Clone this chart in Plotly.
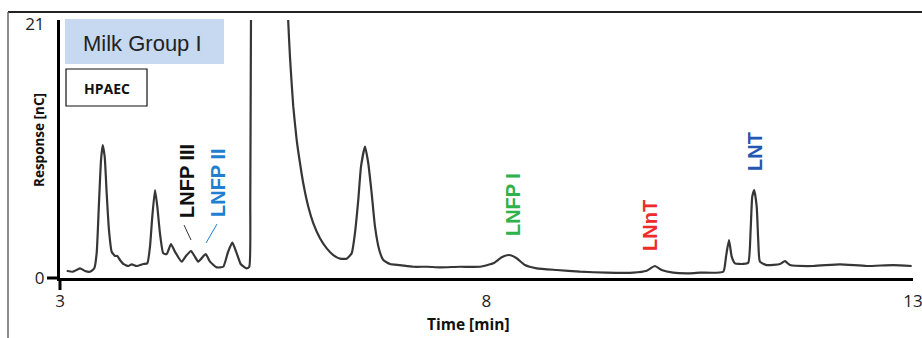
import plotly.graph_objects as go

# Chromatogram trace (retention time in min, detector response in nC)
time_min = [
    3.079, 3.152, 3.234, 3.293, 3.352, 3.402, 3.430, 3.457, 3.481, 3.501,
    3.524, 3.547, 3.574, 3.606, 3.645, 3.672, 3.703, 3.742, 3.801, 3.841,
    3.899, 3.977, 4.023, 4.055, 4.082, 4.114, 4.141, 4.172, 4.211, 4.251,
    4.301, 4.348, 4.427, 4.477, 4.536, 4.583, 4.621, 4.708, 4.758, 4.837,
    4.914, 4.970, 5.020, 5.072, 5.118, 5.189, 5.219, 5.231, 5.239, 5.274,
    5.368, 5.485, 5.603, 5.649, 5.676, 5.696, 5.716, 5.735, 5.775, 5.814,
    5.852, 5.911, 5.970, 6.048, 6.127, 6.204, 6.283, 6.361, 6.420, 6.458,
    6.497, 6.529, 6.576, 6.614, 6.654, 6.693, 6.743, 6.790, 6.869, 6.986,
    7.142, 7.299, 7.455, 7.689, 7.924, 8.080, 8.178, 8.264, 8.354, 8.451,
    8.589, 8.823, 9.096, 9.409, 9.721, 9.878, 9.975, 10.054, 10.190, 10.386,
    10.503, 10.776, 10.808, 10.843, 10.875, 10.913, 11.011, 11.069, 11.097, 11.116,
    11.139, 11.168, 11.186, 11.206, 11.285, 11.441, 11.500, 11.558, 11.831, 12.144,
    12.457, 12.769, 12.985,
]
response_nc = [
    0.60, 0.52, 0.80, 0.58, 0.52, 0.80, 2.07, 6.20, 9.75, 10.99,
    10.02, 7.02, 3.97, 2.17, 1.82, 1.82, 1.49, 1.16, 0.99, 1.13,
    0.99, 1.16, 1.21, 2.59, 5.07, 7.27, 5.89, 3.69, 2.04, 1.98,
    2.81, 2.17, 1.35, 1.82, 2.23, 1.74, 1.35, 1.98, 1.35, 0.88,
    0.93, 2.15, 2.92, 2.04, 1.16, 0.80, 0.93, 6.45, 21.32, 45.0,
    80.0, 75.0, 45.0, 28.0, 21.18, 18.29, 16.09, 14.16, 11.40, 9.48,
    7.83, 5.89, 4.52, 3.29, 2.45, 1.90, 1.60, 1.60, 2.04, 3.69,
    6.45, 9.20, 10.85, 9.48, 7.00, 4.24, 2.31, 1.49, 1.16, 1.07,
    0.93, 0.93, 0.88, 0.93, 0.93, 1.21, 1.71, 1.90, 1.63, 1.07,
    0.80, 0.66, 0.52, 0.44, 0.44, 0.60, 0.99, 0.66, 0.44, 0.39,
    0.44, 0.52, 1.76, 3.14, 1.76, 1.21, 1.16, 1.26, 3.97, 6.72,
    7.27, 5.89, 3.14, 1.35, 1.07, 1.16, 1.40, 1.07, 0.99, 1.13,
    0.99, 1.07, 0.99,
]

# Peak labels
peak_names = ["LNFP III", "LNFP II", "LNFP I", "LNnT", "LNT"]
peak_label_x = [4.489, 4.852, 8.311, 9.917, 11.148]
peak_label_y = [8.02, 7.93, 6.03, 4.38, 10.50]
peak_colors = ["#111111", "#1f7fd0", "#2eb24b", "#ee2a2a", "#2457b2"]

x_ticks = [3, 8, 13]
y_ticks = [0, 21]

W, H = 922, 338
L, R, T, B = 60, 9, 20, 60
pw, ph = W - L - R, H - T - B


def px(xp):
    return (xp - L) / pw


def py(yp):
    return (H - B - yp) / ph


fig = go.Figure()
fig.add_trace(go.Scatter(
    x=time_min, y=response_nc, mode="lines",
    line=dict(color="#363636", width=2.2, shape="spline", smoothing=0.5),
    hoverinfo="skip", showlegend=False,
))

annotations = []
for name, xv, yv, col in zip(peak_names, peak_label_x, peak_label_y, peak_colors):
    annotations.append(dict(
        x=xv, y=yv, xref="x", yref="y", text="<b>" + name + "</b>", textangle=-90,
        xanchor="center", yanchor="middle", showarrow=False,
        font=dict(family="Liberation Sans", size=20, color=col),
    ))

annotations += [
    dict(x=px(81), y=py(43), xref="paper", yref="paper", xanchor="left", yanchor="middle",
         text="Milk Group I", showarrow=False,
         font=dict(family="Liberation Sans", size=22, color="#222222")),
    dict(x=px(106.5), y=py(88), xref="paper", yref="paper", xanchor="center", yanchor="middle",
         text="<b>HPAEC</b>", showarrow=False,
         font=dict(family="Open Sans", size=14, color="#111111")),
    dict(x=px(39), y=py(140), xref="paper", yref="paper", textangle=-90,
         xanchor="center", yanchor="middle",
         text="<b>Response [nC]</b>", showarrow=False,
         font=dict(family="Open Sans", size=13.5, color="#111111")),
    dict(x=px(468), y=py(324), xref="paper", yref="paper", xanchor="center", yanchor="middle",
         text="<b>Time [min]</b>", showarrow=False,
         font=dict(family="Open Sans", size=15.5, color="#111111")),
]

shapes = [
    # title box and method box
    dict(type="rect", xref="paper", yref="paper", x0=px(65), x1=px(224),
         y0=py(64), y1=py(19), fillcolor="#c6d9f1", line=dict(width=0), layer="below"),
    dict(type="rect", xref="paper", yref="paper", x0=px(66), x1=px(147),
         y0=py(106), y1=py(69), fillcolor="white", line=dict(color="#111111", width=1.2)),
    # leader lines for LNFP III / LNFP II
    dict(type="line", xref="x", yref="y", x0=4.454, y0=4.38, x1=4.536, y1=3.14,
         line=dict(color="#333333", width=1)),
    dict(type="line", xref="x", yref="y", x0=4.841, y0=4.46, x1=4.712, y1=2.89,
         line=dict(color="#1f7fd0", width=1)),
    # origin cross ticks
    dict(type="line", xref="paper", yref="paper", x0=px(47), x1=0, y0=0, y1=0,
         line=dict(color="#000000", width=3)),
    dict(type="line", xref="paper", yref="paper", x0=0, x1=0, y0=0, y1=py(290),
         line=dict(color="#000000", width=3)),
    # outer frame
    dict(type="line", xref="paper", yref="paper", x0=px(8), x1=px(930), y0=py(12), y1=py(12),
         line=dict(color="#222222", width=2)),
    dict(type="line", xref="paper", yref="paper", x0=px(8), x1=px(8), y0=py(12), y1=py(345),
         line=dict(color="#666666", width=1.5)),
]

fig.update_layout(
    width=W, height=H,
    margin=dict(l=L, r=R, t=T, b=B, autoexpand=False),
    paper_bgcolor="white", plot_bgcolor="white",
    annotations=annotations, shapes=shapes,
    font=dict(family="Open Sans", color="#222222"),
)
fig.update_xaxes(
    range=[3, 13.0005], tickvals=x_ticks, ticktext=[str(v) for v in x_ticks],
    showline=True, linecolor="#000000", linewidth=3, showgrid=False, zeroline=False,
    ticks="outside", ticklen=6, tickcolor="rgba(0,0,0,0)", ticklabeloverflow="allow",
    automargin=False,
    tickfont=dict(family="Open Sans", size=17, color="#222222"),
)
fig.update_yaxes(
    range=[0, 21.32], tickvals=y_ticks, ticktext=[str(v) for v in y_ticks],
    showline=True, linecolor="#000000", linewidth=3, showgrid=False, zeroline=False,
    ticks="outside", ticklen=9, tickcolor="rgba(0,0,0,0)", automargin=False,
    tickfont=dict(family="Open Sans", size=17, color="#222222"),
)

fig.write_html("out.html")
